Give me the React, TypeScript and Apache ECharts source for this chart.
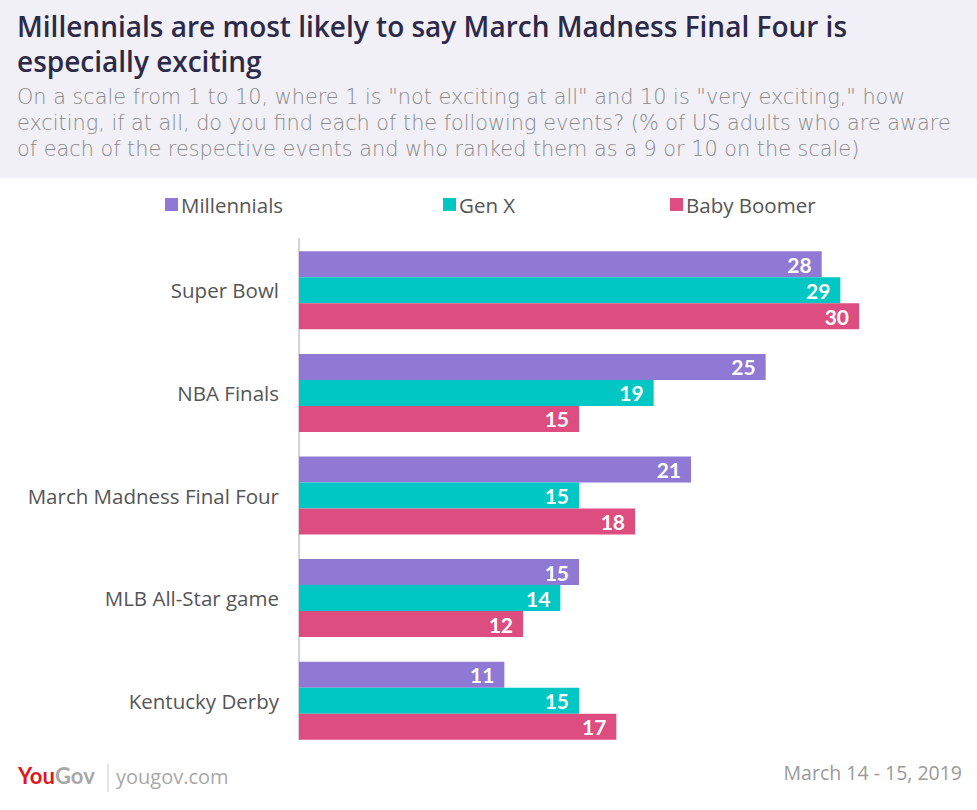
import React, { useEffect, useRef } from "react";
import * as echarts from "echarts";

const categories = ["Super Bowl", "NBA Finals", "March Madness Final Four", "MLB All-Star game", "Kentucky Derby"];
const millennials = [28, 25, 21, 15, 11];
const genX = [29, 19, 15, 14, 15];
const babyBoomer = [30, 15, 18, 12, 17];
const seriesNames = ["Millennials", "Gen X", "Baby Boomer"];
const colors = ["#9079d4", "#00c7c4", "#dd4d80"];

const titleLines = ["Millennials are most likely to say March Madness Final Four is", "especially exciting"];
const subtitleLines = [
  'On a scale from 1 to 10, where 1 is "not exciting at all" and 10 is "very exciting," how',
  "exciting, if at all, do you find each of the following events? (% of US adults who are aware",
  "of each of the respective events and who ranked them as a 9 or 10 on the scale)",
];

const FONT = "Lato, 'Open Sans', sans-serif";
const OS = "'Open Sans', sans-serif";

export default function App() {
  const ref = useRef<HTMLDivElement>(null);
  useEffect(() => {
    if (!ref.current) return;
    const chart = echarts.init(ref.current, undefined, { renderer: "svg" });
    const legendX = [160, 438, 665];
    const seriesData = [millennials, genX, babyBoomer];
    chart.setOption({
      animation: false,
      backgroundColor: "#ffffff",
      textStyle: { fontFamily: FONT },
      graphic: [
        { type: "rect", shape: { x: 0, y: 0, width: 977, height: 178 }, style: { fill: "#f1f0f6" }, silent: true, z: -10 },
        {
          type: "text",
          left: 17,
          top: 8,
          style: { text: titleLines.join("\n"), fill: "#2d2a49", font: `600 28px ${OS}`, lineHeight: 35 },
        },
        {
          type: "text",
          left: 17,
          top: 84,
          style: { text: subtitleLines.join("\n"), fill: "#8a8a8a", font: `200 20.8px 'DejaVu Sans', sans-serif`, lineHeight: 26 },
        },
        { type: "line", shape: { x1: 299, y1: 238, x2: 299, y2: 740 }, style: { stroke: "#d4d4d4", lineWidth: 2 } },
        {
          type: "text",
          left: 18,
          top: 764,
          style: { text: "You", fill: "#e0161b", font: `bold 22px ${FONT}` },
        },
        {
          type: "text",
          left: 55,
          top: 764,
          style: { text: "Gov", fill: "#a8a8a8", font: `bold 22px ${FONT}` },
        },
        { type: "line", shape: { x1: 108, y1: 764, x2: 108, y2: 792 }, style: { stroke: "#c8c8c8", lineWidth: 1 } },
        {
          type: "text",
          left: 116,
          top: 766,
          style: { text: "yougov.com", fill: "#a8a8a8", font: `20px ${OS}` },
        },
        {
          type: "text",
          right: 15,
          top: 762,
          style: { text: "March 14 - 15, 2019", fill: "#9a9a9a", font: `19.5px ${OS}` },
        },
      ],
      legend: seriesNames.map((n, i) => ({
        data: [n],
        left: legendX[i],
        top: 189,
        icon: "rect",
        itemWidth: 13,
        itemHeight: 13,
        itemGap: 5,
        textStyle: { fontSize: 20.5, color: "#555", fontFamily: OS, padding: [0, 0, 0, -2] },
      })),
      grid: { left: 299, right: 118, top: 239, bottom: 58, containLabel: false },
      xAxis: {
        type: "value",
        min: 0,
        max: 30,
        show: false,
      },
      yAxis: {
        type: "category",
        data: categories,
        inverse: true,
        axisLine: { show: false },
        axisTick: { show: false },
        axisLabel: { fontSize: 20.5, color: "#555", margin: 20, fontFamily: OS },
      },
      series: seriesNames.map((n, i) => ({
        name: n,
        type: "bar",
        data: seriesData[i],
        barWidth: 26,
        barGap: "0%",
        itemStyle: { color: colors[i] },
        label: {
          show: true,
          position: "insideRight",
          distance: 10,
          color: "#fff",
          fontWeight: "bold",
          fontSize: 21,
          fontFamily: FONT,
        },
      })),
    });
    return () => chart.dispose();
  }, []);
  return <div ref={ref} style={{ position: "fixed", left: 0, top: 0, width: 977, height: 810 }} />;
}
